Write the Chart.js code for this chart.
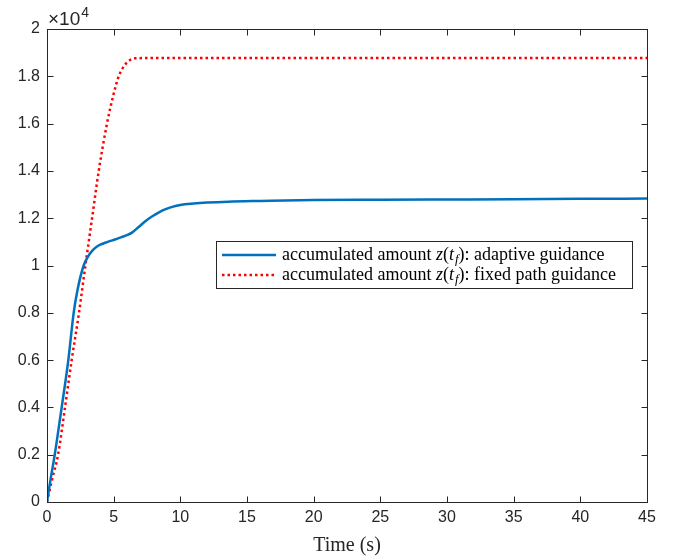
<!DOCTYPE html>
<html lang="en">
<head>
<meta charset="UTF-8">
<title>Accumulated amount</title>
<script src="https://cdn.jsdelivr.net/npm/chart.js"></script>
<style>
  body { margin: 0; background: #fff; }
  #wrap { width: 679px; height: 560px; }
</style>
</head>
<body>
<div id="wrap"><canvas id="grafico" width="679" height="560"></canvas></div>
<script>
  // tempo (s) e quantidade acumulada z(t_f)
  const tempoAdaptive = [0, 0.25, 0.58, 1.1, 1.6, 2.0, 2.3, 2.75, 3.1, 3.4, 3.7, 4.0, 4.5, 5.1, 5.6, 6.0, 6.4, 6.9, 7.4, 7.9, 8.4, 8.9, 9.4, 10, 11, 12, 13.6, 16, 20, 25, 30, 35, 40, 45];
  const valorAdaptive = [0, 900, 2000, 4000, 6000, 8000, 9000, 10000, 10400, 10630, 10780, 10880, 10990, 11100, 11200, 11280, 11400, 11640, 11880, 12080, 12250, 12380, 12480, 12560, 12620, 12660, 12700, 12730, 12770, 12780, 12790, 12800, 12820, 12830];

  const tempoFixed = [0, 0.4, 0.83, 1.35, 1.85, 2.4, 2.88, 3.38, 3.88, 4.5, 4.93, 5.38, 5.88, 6.2, 6.6, 7.5, 10, 20, 30, 45];
  const valorFixed = [0, 1000, 2000, 4000, 6000, 8000, 10000, 12000, 14000, 16000, 17100, 18000, 18510, 18680, 18760, 18770, 18770, 18770, 18770, 18770];

  const ticksX = [0, 5, 10, 15, 20, 25, 30, 35, 40, 45];
  const ticksY = [0, 2000, 4000, 6000, 8000, 10000, 12000, 14000, 16000, 18000, 20000];

  const eixoCor = '#262626';

  function pontos(xs, ys) {
    return xs.map((t, i) => ({ x: t, y: ys[i] }));
  }

  // desenha o texto da legenda com z(t_f) em italico
  function textoLegenda(ctx, label, x, y, size) {
    const partes = label.split('z(t_f)');
    const normal = size + 'px "Liberation Serif"';
    const ital = 'italic ' + size + 'px "Liberation Serif"';
    const sub = 'italic ' + Math.round(size * 0.72) + 'px "Liberation Serif"';
    const seg = [
      [partes[0], normal, 0], ['z', ital, 0], ['(', normal, 0], ['t', ital, 0],
      ['f', sub, 3], [')' + partes[1], normal, 0]
    ];
    let cx = x;
    seg.forEach(([t, f, dy]) => {
      ctx.font = f;
      ctx.fillText(t, cx, y + dy);
      cx += ctx.measureText(t).width + (t === 't' ? 1 : 0);
    });
  }

  const caixaPlugin = {
    id: 'caixa',
    afterDraw(chart) {
      const { ctx, chartArea: a, scales: { x, y } } = chart;
      ctx.save();
      ctx.strokeStyle = eixoCor;
      ctx.lineWidth = 1;
      const L = Math.round(a.left) + 0.5, R = Math.round(a.right) + 0.5;
      const T = Math.round(a.top) + 0.5, B = Math.round(a.bottom) + 0.5;
      ctx.strokeRect(L, T, R - L, B - T);
      ctx.beginPath();
      x.ticks.forEach(t => {
        const px = Math.round(x.getPixelForValue(t.value)) + 0.5;
        ctx.moveTo(px, B); ctx.lineTo(px, B - 6);
        ctx.moveTo(px, T); ctx.lineTo(px, T + 6);
      });
      y.ticks.forEach(t => {
        const py = Math.round(y.getPixelForValue(t.value)) + 0.5;
        ctx.moveTo(L, py); ctx.lineTo(L + 6, py);
        ctx.moveTo(R, py); ctx.lineTo(R - 6, py);
      });
      ctx.stroke();

      // multiplicador do eixo y
      ctx.fillStyle = eixoCor;
      ctx.textBaseline = 'alphabetic';
      ctx.font = '19px "Liberation Sans"';
      ctx.fillText('\u00d710', 48, 25);
      const w = ctx.measureText('\u00d710').width;
      ctx.font = '14px "Liberation Sans"';
      ctx.fillText('4', 48 + w + 1, 17);

      // legenda
      const bx = 216.5, by = 241.5, bw = 416, bh = 47;
      ctx.fillStyle = '#fff';
      ctx.fillRect(bx, by, bw, bh);
      ctx.strokeStyle = eixoCor;
      ctx.lineWidth = 1;
      ctx.strokeRect(bx, by, bw, bh);
      chart.data.datasets.forEach((ds, i) => {
        const ly = 255 + i * 20;
        ctx.save();
        ctx.strokeStyle = ds.borderColor;
        ctx.lineWidth = ds.borderWidth;
        ctx.setLineDash(ds.borderDash || []);
        ctx.beginPath();
        ctx.moveTo(222, ly);
        ctx.lineTo(276, ly);
        ctx.stroke();
        ctx.restore();
        ctx.fillStyle = '#000';
        textoLegenda(ctx, ds.label, 282, ly + 5, 18);
      });
      ctx.restore();
    }
  };

  const ctx = document.getElementById('grafico').getContext('2d');
  const grafico = new Chart(ctx, {
    type: 'line',
    data: {
      datasets: [{
        label: 'accumulated amount z(t_f): adaptive guidance',
        data: pontos(tempoAdaptive, valorAdaptive),
        borderColor: '#0072BD',
        borderWidth: 2.5,
        pointRadius: 0,
        cubicInterpolationMode: 'monotone'
      }, {
        label: 'accumulated amount z(t_f): fixed path guidance',
        data: pontos(tempoFixed, valorFixed),
        borderColor: '#FF0000',
        borderWidth: 2.5,
        borderDash: [2.5, 3],
        pointRadius: 0,
        cubicInterpolationMode: 'monotone'
      }]
    },
    options: {
      responsive: false,
      animation: false,
      layout: { padding: { top: 29, right: 32, left: 0, bottom: 0 } },
      plugins: {
        legend: { display: false },
        tooltip: { enabled: false }
      },
      scales: {
        x: {
          type: 'linear',
          min: 0, max: 45,
          afterBuildTicks: s => { s.ticks = ticksX.map(v => ({ value: v })); },
          afterFit: s => { s.height = 58; },
          grid: { display: false, drawTicks: false },
          border: { display: false },
          ticks: { color: eixoCor, font: { family: 'Liberation Sans', size: 16 }, padding: 6, maxRotation: 0 },
          title: {
            display: true,
            text: 'Time (s)',
            color: eixoCor,
            font: { family: 'Liberation Serif', size: 20, lineHeight: 1.2 },
            padding: { top: 0, bottom: 2 }
          }
        },
        y: {
          min: 0, max: 20000,
          afterBuildTicks: s => { s.ticks = ticksY.map(v => ({ value: v })); },
          afterFit: s => { s.width = 47; },
          grid: { display: false, drawTicks: false },
          border: { display: false },
          ticks: {
            color: eixoCor,
            font: { family: 'Liberation Sans', size: 16 },
            padding: 7,
            callback: v => String(+(v / 10000).toFixed(1))
          }
        }
      }
    },
    plugins: [caixaPlugin]
  });
</script>
</body>
</html>
